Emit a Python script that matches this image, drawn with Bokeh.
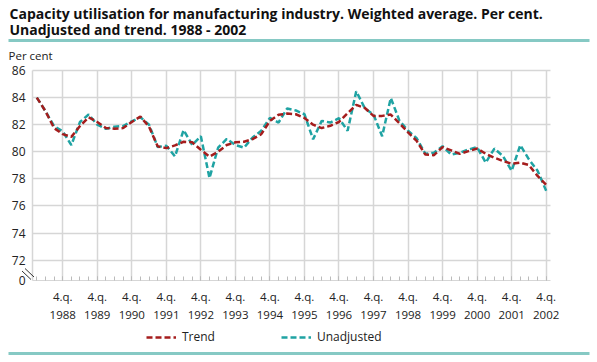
from bokeh.plotting import figure
from bokeh.models import Range1d, FixedTicker, Label, Arrow, Legend, LegendItem
from bokeh.embed import file_html
from bokeh.resources import INLINE

years = list(range(1988, 2003))
quarters = [f"{y}Q{q}" for y in years for q in range(1, 5)]

trend = [84.0, 83.0, 81.75, 81.3, 81.1, 81.9, 82.55, 82.2, 81.75, 81.7, 81.75, 82.2,
         82.6, 81.85, 80.4, 80.27, 80.47, 80.74, 80.7, 80.15, 79.65, 80.0, 80.5, 80.7,
         80.74, 80.94, 81.3, 82.28, 82.73, 82.82, 82.77, 82.5, 82.0, 81.75, 81.92, 82.2,
         82.85, 83.46, 83.23, 82.65, 82.65, 82.75, 82.1, 81.43, 80.8, 79.8, 79.75, 80.35,
         80.1, 79.85, 80.05, 80.24, 79.85, 79.56, 79.32, 79.12, 79.2, 79.02, 78.22, 77.56]

unadjusted = [84.0, 83.0, 81.9, 81.5, 80.5, 82.2, 82.75, 82.0, 81.7, 81.85, 81.9, 82.25,
              82.55, 82.0, 80.35, 80.45, 79.66, 81.6, 80.5, 81.15, 78.07, 80.3, 80.95, 80.5,
              80.3, 81.06, 81.55, 82.5, 82.16, 83.2, 83.05, 82.77, 80.92, 82.28, 82.16, 82.48,
              81.55, 84.47, 83.2, 82.75, 81.15, 83.97, 82.3, 81.55, 81.0, 79.85, 79.93, 80.41,
              79.8, 79.93, 80.17, 80.34, 79.2, 80.24, 79.68, 78.6, 80.49, 79.44, 78.6, 77.12]

y_ticks = [72, 74, 76, 78, 80, 82, 84, 86]
y_break = 70.5
x_tick_labels = [f"4.q.\n{y}" for y in years]

idx = list(range(len(quarters)))
q4_idx = [i for i, q in enumerate(quarters) if q.endswith("Q4")]

FONT = "Open Sans"
TEAL = "#1fa3a3"
RED = "#a51d1d"
RULE = "#86c9c4"
GRID = "#d6d6d6"

W, H = 597, 362
# target pixel box of the plotting area inside the canvas
PL, PR, PT, PB = 32, 550, 70, 280
x0, x1 = -0.5, len(idx) - 0.5
y0, y1 = y_break, 86
sx = (PR - PL) / (x1 - x0)
sy = (PB - PT) / (y1 - y0)
x_range = Range1d(x0 - PL / sx, x1 + (W - PR) / sx)
y_range = Range1d(y0 - (H - PB) / sy, y1 + PT / sy)

p = figure(width=W, height=H, x_range=x_range, y_range=y_range,
           output_backend="svg", toolbar_location=None,
           min_border=0, min_border_left=0, min_border_right=0,
           min_border_top=0, min_border_bottom=0)
p.outline_line_color = None
p.background_fill_color = "white"
p.border_fill_color = "white"

# axes (fixed inside the canvas)
yax = p.yaxis[0]
yax.fixed_location = x0
yax.bounds = (y0, y1)
yax.ticker = FixedTicker(ticks=[y_break] + y_ticks)
yax.major_label_overrides = {y_break: "0", **{t: str(t) for t in y_ticks}}
yax.major_tick_in = 0
yax.major_tick_out = 0
yax.minor_tick_line_color = None
yax.axis_line_color = GRID
yax.axis_line_width = 1.5
yax.major_label_text_font = FONT
yax.major_label_text_font_size = "12px"
yax.major_label_text_color = "#222222"
yax.major_label_standoff = 7

xax = p.xaxis[0]
xax.fixed_location = y0
xax.bounds = (x0, x1)
xax.ticker = FixedTicker(ticks=q4_idx, minor_ticks=idx)
xax.major_label_overrides = {i: lab for i, lab in zip(q4_idx, x_tick_labels)}
xax.axis_line_color = GRID
xax.major_tick_in = 4
xax.major_tick_out = 0
xax.minor_tick_in = 4
xax.minor_tick_out = 0
xax.major_tick_line_color = "#bbbbbb"
xax.minor_tick_line_color = "#bbbbbb"
xax.major_label_text_font = FONT
xax.major_label_text_font_size = "11.5px"
xax.major_label_text_color = "#222222"
xax.major_label_standoff = 8

p.ygrid.ticker = FixedTicker(ticks=y_ticks)
p.xgrid.ticker = FixedTicker(ticks=q4_idx)
p.ygrid.bounds = (y0 - 1, y1 + 1)
p.xgrid.bounds = (x0 - 1, x1 + 1)
p.ygrid.cross_bounds = (x0, x1)
p.xgrid.cross_bounds = (y0, y1)
p.ygrid.grid_line_color = GRID
p.xgrid.grid_line_color = GRID
p.ygrid.grid_line_width = 1.5
p.xgrid.grid_line_width = 1.5

r_u = p.line(idx, unadjusted, line_color=TEAL, line_width=2.5, line_dash="6 3")
r_t = p.line(idx, trend, line_color=RED, line_width=2.5, line_dash="6 3")

legend = Legend(items=[LegendItem(label="Trend", renderers=[r_t]),
                       LegendItem(label="Unadjusted", renderers=[r_u])],
                orientation="horizontal", location=(146, H - 345),
                border_line_color=None, background_fill_alpha=0,
                glyph_width=30, glyph_height=14, spacing=66, padding=0, margin=0,
                label_text_font=FONT, label_text_font_size="12px",
                label_text_color="#222222", label_standoff=6)
p.add_layout(legend)

# titles and decorations (screen units measured from the bottom-left corner)
p.add_layout(Label(x=9, y=H - 13, x_units="screen", y_units="screen",
                   text="Capacity utilisation for manufacturing industry. Weighted average. Per cent.",
                   text_font=FONT, text_font_style="bold", text_font_size="14px",
                   text_baseline="middle", text_color="#111111"))
p.add_layout(Label(x=9, y=H - 29, x_units="screen", y_units="screen",
                   text="Unadjusted and trend. 1988 - 2002",
                   text_font=FONT, text_font_style="bold", text_font_size="14px",
                   text_baseline="middle", text_color="#111111"))
p.add_layout(Label(x=8, y=H - 55, x_units="screen", y_units="screen", text="Per cent",
                   text_font=FONT, text_font_size="11.5px", text_baseline="middle",
                   text_color="#222222"))

p.add_layout(Arrow(end=None, x_start=8, y_start=H - 40, x_end=589, y_end=H - 40,
                   start_units="screen", end_units="screen", line_color=RULE, line_width=3))
p.add_layout(Arrow(end=None, x_start=8, y_start=H - 353, x_end=589, y_end=H - 353,
                   start_units="screen", end_units="screen", line_color=RULE, line_width=3))
p.add_layout(Arrow(end=None, x_start=21.5, y_start=H - 270.5, x_end=30.5, y_end=H - 279,
                   start_units="screen", end_units="screen", line_color="#333333", line_width=1))
p.add_layout(Arrow(end=None, x_start=24.5, y_start=H - 268, x_end=33.5, y_end=H - 276.5,
                   start_units="screen", end_units="screen", line_color="#333333", line_width=1))

open("out.html", "w").write(file_html(p, INLINE))
